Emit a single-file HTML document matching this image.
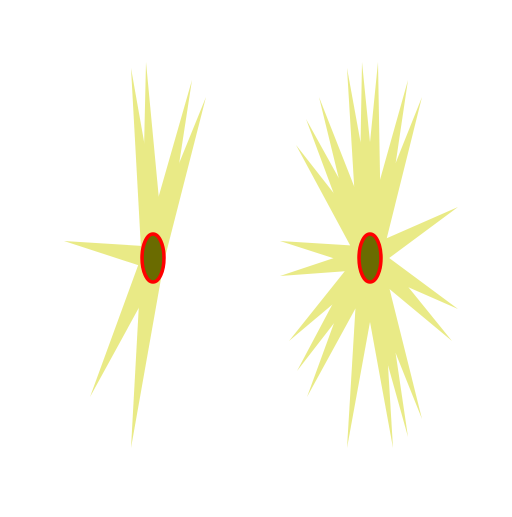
<!DOCTYPE html>
<html><head><meta charset="utf-8"><style>body{margin:0;background:#fff}</style></head>
<body>
<svg id="chart" width="512" height="512" xmlns="http://www.w3.org/2000/svg"></svg>
<script>
const leftCenter = [153, 258];
const rightCenter = [370, 258];
const leftTipsX = [131,146,192,206,64,90,131];
const leftTipsY = [68,62,80,97,241,397,448];
const rightTipsX = [347,362,378,408,422,319,306,296,458,280,280,458,452,289,297,307,347,393,408,422];
const rightTipsY = [68,62,62,80,97,97,119,145,207,241,276,309,341,341,371,397,448,448,437,419];
const NS = 'http://www.w3.org/2000/svg';
const svg = document.getElementById('chart');
function star(c, xs, ys, name) {
  const g = document.createElementNS(NS, 'g');
  
  
  svg.appendChild(g);
  for (let i = 0; i < xs.length; i++) {
    const dx = xs[i] - c[0], dy = ys[i] - c[1];
    const L = Math.hypot(dx, dy), w = 11.5;
    const px = -dy / L * w, py = dx / L * w;
    const p = document.createElementNS(NS, 'polygon');
    p.setAttribute('points', `${xs[i]},${ys[i]} ${c[0]+px},${c[1]+py} ${c[0]-px},${c[1]-py}`);
    p.setAttribute('fill', '#e9ea86');
    
    
    g.appendChild(p);
  }
  const e = document.createElementNS(NS, 'ellipse');
  e.setAttribute('cx', c[0]); e.setAttribute('cy', c[1]);
  e.setAttribute('rx', 11); e.setAttribute('ry', 24);
  e.setAttribute('fill', '#6a6b00'); e.setAttribute('stroke', '#ff0000'); e.setAttribute('stroke-width', 3.5);
  
  
  g.appendChild(e);
}
star(leftCenter, leftTipsX, leftTipsY, 'left-starburst');
star(rightCenter, rightTipsX, rightTipsY, 'right-starburst');
</script>
</body></html>
